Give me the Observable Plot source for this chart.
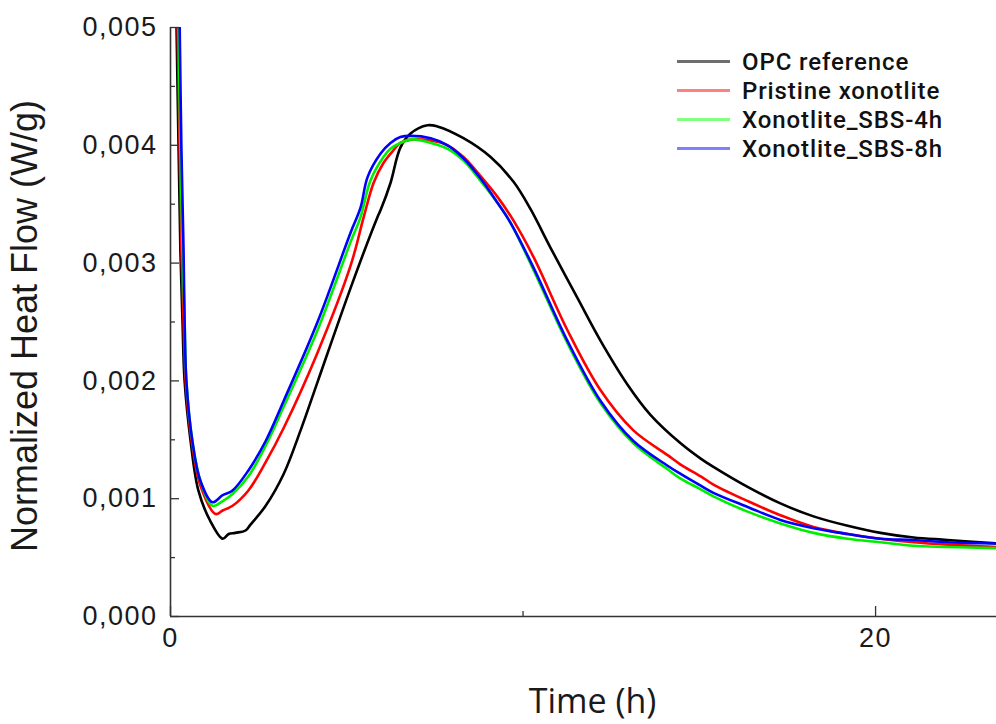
<!DOCTYPE html>
<html>
<head>
<meta charset="utf-8">
<script src="https://cdn.jsdelivr.net/npm/d3@7"></script>
<script src="https://cdn.jsdelivr.net/npm/@observablehq/plot@0.6"></script>
<style>
  html, body { margin: 0; padding: 0; background: #fff; }
  #wrap { position: relative; width: 996px; height: 724px; }
  #legend { position: absolute; left: 677px; top: 47px; font-family: Roboto, "Open Sans", sans-serif; font-weight: 500; font-size: 24px; letter-spacing: 0.9px; color: #111; }
  #legend .row { display: flex; align-items: center; height: 29px; }
  #legend .row span { line-height: 26px; display: block; }
  #legend .sw { width: 53px; height: 3px; margin-right: 12px; }
</style>
</head>
<body>
<div id="wrap">
  <div id="chart"></div>
  <div id="legend"></div>
</div>
<script>
// Series names and legend colors
const seriesNames = ["OPC reference", "Pristine xonotlite", "Xonotlite_SBS-4h", "Xonotlite_SBS-8h"];
const seriesColors = ["#000000", "#ff0000", "#00ee00", "#0000ff"];
const legendColors = ["#6f6f6f", "#ff8080", "#80ff80", "#8080ff"];

// OPC reference (time h, heat flow W/g)
const timeOPC = [0.17,0.23,0.28,0.34,0.40,0.57,0.79,1.13,1.48,1.65,1.84,2.13,2.27,2.70,3.21,3.69,4.17,5.11,5.87,5.96,6.24,6.52,6.81,7.29,7.57,8.31,9.08,9.73,10.21,10.78,11.55,12.20,12.96,13.62,14.47,15.04,15.40,16.37,17.30,18.24,19.21,20.14,21.08,22.04,23.43];
const heatOPC = [0.00502,0.00396,0.00311,0.00251,0.00200,0.00149,0.00107,0.00081,0.00066,0.00070,0.00071,0.00073,0.00078,0.00094,0.00121,0.00158,0.00199,0.00279,0.00339,0.00345,0.00368,0.00398,0.00410,0.00417,0.00416,0.00406,0.00390,0.00369,0.00346,0.00313,0.00270,0.00234,0.00197,0.00171,0.00147,0.00134,0.00127,0.00110,0.00096,0.00085,0.00077,0.00071,0.00067,0.00065,0.00062];

// Pristine xonotlite
const timePristine = [0.20,0.26,0.31,0.37,0.43,0.60,0.85,1.28,1.48,1.76,2.21,2.70,3.21,4.17,5.11,5.48,5.76,6.04,6.33,6.52,6.89,7.38,7.86,8.31,8.79,9.28,9.73,10.30,11.26,12.20,13.13,14.10,14.47,15.04,15.40,16.37,17.30,18.24,19.21,20.14,21.08,22.04,23.43];
const heatPristine = [0.00502,0.00396,0.00311,0.00251,0.00200,0.00149,0.00111,0.00087,0.00090,0.00094,0.00107,0.00131,0.00160,0.00224,0.00298,0.00339,0.00368,0.00385,0.00396,0.00402,0.00405,0.00404,0.00400,0.00390,0.00374,0.00356,0.00336,0.00305,0.00243,0.00192,0.00158,0.00137,0.00129,0.00119,0.00112,0.00098,0.00086,0.00076,0.00070,0.00066,0.00063,0.00061,0.00059];

// Xonotlite_SBS-4h
const timeSBS4 = [0.23,0.28,0.34,0.40,0.45,0.62,0.85,1.19,1.48,1.76,2.21,2.70,3.21,4.17,5.11,5.39,5.67,6.04,6.24,6.52,6.89,7.38,7.86,8.31,8.79,9.28,9.65,10.30,11.26,12.20,13.13,14.10,14.47,15.04,15.40,16.37,17.30,18.24,19.21,20.14,21.08,22.04,23.43];
const heatSBS4 = [0.00502,0.00396,0.00311,0.00251,0.00200,0.00149,0.00115,0.00094,0.00098,0.00104,0.00119,0.00145,0.00178,0.00243,0.00318,0.00339,0.00370,0.00390,0.00397,0.00402,0.00405,0.00402,0.00397,0.00387,0.00370,0.00351,0.00334,0.00294,0.00232,0.00181,0.00147,0.00125,0.00117,0.00108,0.00102,0.00089,0.00079,0.00071,0.00066,0.00063,0.00060,0.00059,0.00058];

// Xonotlite_SBS-8h
const timeSBS8 = [0.26,0.31,0.37,0.40,0.45,0.62,0.85,1.19,1.48,1.76,2.21,2.70,3.21,4.17,5.11,5.39,5.59,5.96,6.24,6.52,6.81,7.38,7.86,8.31,8.79,9.28,9.65,10.30,11.26,12.20,13.13,14.10,14.47,15.04,15.40,16.37,17.30,18.24,19.21,20.14,21.08,22.04,23.43];
const heatSBS8 = [0.00502,0.00396,0.00311,0.00251,0.00200,0.00149,0.00115,0.00097,0.00103,0.00107,0.00124,0.00149,0.00183,0.00250,0.00326,0.00347,0.00373,0.00393,0.00402,0.00407,0.00408,0.00406,0.00400,0.00389,0.00372,0.00351,0.00334,0.00296,0.00234,0.00183,0.00149,0.00128,0.00121,0.00111,0.00105,0.00093,0.00082,0.00075,0.00070,0.00066,0.00065,0.00063,0.00062];

// Axis ticks
const yMajorTicks = [0, 0.001, 0.002, 0.003, 0.004, 0.005];
const yMinorTicks = [0.0005, 0.0015, 0.0025, 0.0035, 0.0045];
const xMajorTicks = [0, 20];
const xMinorTicks = [10];

const seriesTimes = [timeOPC, timePristine, timeSBS4, timeSBS8];
const seriesHeats = [heatOPC, heatPristine, heatSBS4, heatSBS8];
const rows = [];
seriesNames.forEach((name, i) => {
  seriesTimes[i].forEach((t, j) => rows.push({series: name, time: t, heat: seriesHeats[i][j]}));
});

const tickFont = {fontSize: 27, fontFamily: "Liberation Sans, Arial, sans-serif"};
const blank = () => "";

const chart = Plot.plot({
  width: 996,
  height: 724,
  marginLeft: 170,
  marginRight: 0,
  marginTop: 27,
  marginBottom: 108,
  style: {background: "#fff", overflow: "visible", color: "#1a1a1a"},
  x: {domain: [0, 23.43], label: null},
  y: {domain: [0, 0.005], label: null},
  color: {domain: seriesNames, range: seriesColors},
  marks: [
    Plot.lineY(rows, {x: "time", y: "heat", z: "series", stroke: "series", strokeWidth: 2.6, curve: "catmull-rom", clip: true}),
    Plot.ruleX([0], {stroke: "#333", strokeWidth: 1.6}),
    Plot.ruleY([0], {stroke: "#333", strokeWidth: 1.6}),
    Plot.axisY({ticks: yMajorTicks, anchor: "left", tickSize: -9, tickFormat: blank, label: null, stroke: "#333", strokeWidth: 1.3}),
    Plot.axisY({ticks: yMinorTicks, anchor: "left", tickSize: -5, tickFormat: blank, label: null, stroke: "#333", strokeWidth: 1.3}),
    Plot.axisY({ticks: yMajorTicks, anchor: "left", tickSize: 0, tickPadding: 13, tickFormat: d => d.toFixed(3).replace(".", ","), label: "Normalized Heat Flow (W/g)", labelAnchor: "center", labelOffset: 159, labelArrow: "none", ...tickFont}),
    Plot.axisX({ticks: xMajorTicks, anchor: "bottom", tickSize: -10, tickFormat: blank, label: null, stroke: "#333", strokeWidth: 1.3}),
    Plot.axisX({ticks: xMinorTicks, anchor: "bottom", tickSize: -5, tickFormat: blank, label: null, stroke: "#333", strokeWidth: 1.3}),
    Plot.axisX({ticks: xMajorTicks, anchor: "bottom", tickSize: 0, tickPadding: 11, tickFormat: d => String(d), label: "Time (h)", labelAnchor: "center", labelOffset: 96, labelArrow: "none", ...tickFont})
  ]
});
document.getElementById("chart").appendChild(chart);

// Post-style axis label fonts
const svg = d3.select(chart);
svg.selectAll('g[aria-label="x-axis label"] text').attr("font-family", "Open Sans, sans-serif").attr("font-size", 34).attr("dx", 9);
svg.selectAll('g[aria-label="y-axis label"] text').attr("font-family", "Liberation Sans, Arial, sans-serif").attr("font-size", 36).attr("dx", -4);
svg.selectAll('g[aria-label="y-axis tick label"] text, g[aria-label="x-axis tick label"] text').attr("letter-spacing", 1.5);

// Legend
const legend = d3.select("#legend");
seriesNames.forEach((name, i) => {
  const row = legend.append("div").attr("class", "row");
  row.append("div").attr("class", "sw").style("background", legendColors[i]);
  row.append("span").text(name);
});
</script>
</body>
</html>
